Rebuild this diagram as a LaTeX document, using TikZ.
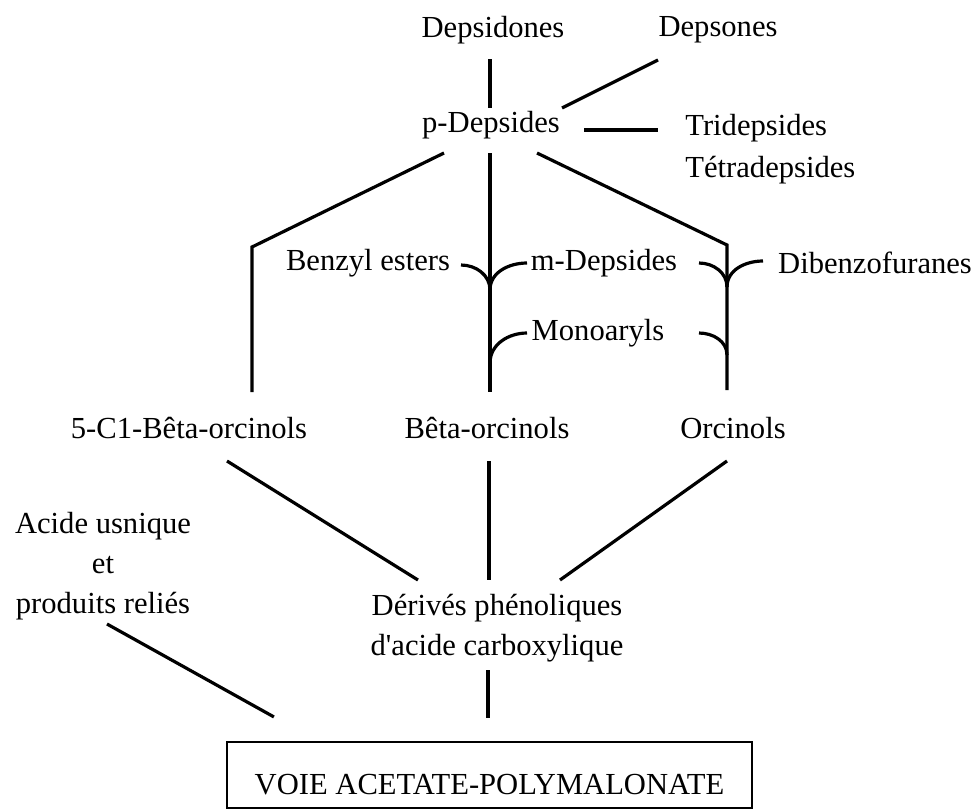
\documentclass[tikz,border=0pt]{standalone}
\usepackage{fontspec}
\setmainfont{Liberation Serif}
\usetikzlibrary{positioning,calc}

\begin{document}
\begin{tikzpicture}[
  x=0.5pt,y=-0.5pt,
  lbl/.style={inner sep=0pt,align=center,font=\fontsize{15.3}{20}\selectfont},
  link/.style={line width=1.6pt},
  pathbox/.style={draw,line width=1.1pt,inner xsep=0pt,inner ysep=7pt,
                  minimum width=262.5pt,text height=19pt,text depth=0pt,
                  font=\fontsize{15.3}{20}\selectfont}
]
\useasboundingbox (0,0) rectangle (978,811);
% top row
\node[lbl] (dsd) at (493,30) {Depsidones};
\node[lbl] (dso) at (718,30) {Depsones};
\node[lbl] (pdep) at (491,125) {p-Depsides};
\node[lbl,anchor=west] (tri) at (685,128) {Tridepsides};
\node[lbl,anchor=west] (tetra) at ($(tri.west)+(0,42)$) {Tétradepsides};
% branches
\node[lbl] (benz) at (368,263) {Benzyl esters};
\node[lbl] (mdep) at (604,263) {m-Depsides};
\node[lbl] (mono) at (598,333) {Monoaryls};
\node[lbl] (dibenz) at (875,263) {Dibenzofuranes};
% orcinol row
\node[lbl] (cbeta) at (189,428) {5-C1-Bêta-orcinols};
\node[lbl] (beta) at (487,428) {Bêta-orcinols};
\node[lbl] (orc) at (733,428) {Orcinols};
% bottom
\node[lbl] (usn) at (103,566) {Acide usnique\\et\\produits reliés};
\node[lbl] (deriv) at (497,628) {Dérivés phénoliques\\d\textquotesingle acide carboxylique};
\node[pathbox] (voie) at (489.5,775) {VOIE ACETATE-POLYMALONATE};

\coordinate (cl) at (252,247);
\coordinate (cr) at (727,245);
\coordinate (j1) at (490,290);
\coordinate (j2) at (490,363);
\coordinate (j3) at (727,287);
\coordinate (j4) at (727,355);

\draw[link] ($(dsd)+(-3,29)$) -- ($(pdep)+(-1,-17)$);
\draw[link] ($(dso)+(-60,30)$) -- ($(pdep)+(71,-17)$);
\draw[link] ($(pdep)+(93,5)$) -- ($(tri.west)+(-27,2)$);
\draw[link] ($(pdep)+(-47,28)$) -- (cl) -- ($(cbeta)+(63,-36)$);
\draw[link] ($(pdep)+(-1,28)$) -- ($(beta)+(3,-36)$);
\draw[link] ($(pdep)+(46,28)$) -- (cr) -- ($(orc)+(-6,-38)$);
% curly joins
\draw[link] ($(benz)+(93,2)$) to[out=0,in=90] (j1);
\draw[link] ($(mdep)+(-77,0)$) to[out=180,in=90] (j1);
\draw[link] ($(mono)+(-71,0)$) to[out=180,in=90] (j2);
\draw[link] ($(mdep)+(95,0)$) to[out=0,in=90] (j3);
\draw[link] ($(dibenz)+(-112,-2)$) to[out=180,in=90] (j3);
\draw[link] ($(mono)+(101,0)$) to[out=0,in=90] (j4);
% towards the pathway
\draw[link] ($(cbeta)+(38,33)$) -- ($(deriv)+(-79,-48)$);
\draw[link] ($(beta)+(2,33)$) -- ($(deriv)+(-8,-48)$);
\draw[link] ($(orc)+(-6,33)$) -- ($(deriv)+(63,-48)$);
\draw[link] ($(usn)+(4,58)$) -- ($(voie.north west)+(48,-24)$);
\draw[link] ($(deriv)+(-9,42)$) -- ($(voie.north)+(-1.5,-23)$);
\end{tikzpicture}
\end{document}
